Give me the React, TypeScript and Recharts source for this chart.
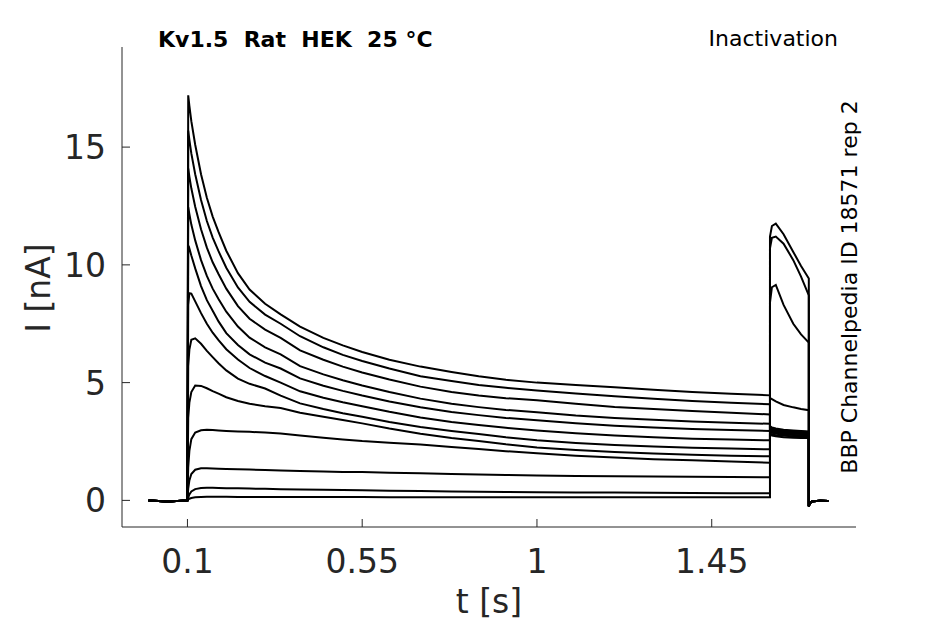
import { Line, LineChart, XAxis, YAxis } from "recharts";

const INK = "#262626";
const FONT = "DejaVu Sans";

// time points [s]
const baseTimes = [0, 0.05, 0.1];
const stepTimes = [
  0.102, 0.105, 0.11, 0.12, 0.135, 0.15, 0.165, 0.18, 0.2, 0.23, 0.26, 0.3, 0.34, 0.39, 0.45,
  0.5, 0.55, 0.62, 0.7, 0.78, 0.85, 0.92, 1.0, 1.1, 1.2, 1.3, 1.4, 1.5, 1.6,
];
const testTimes = [1.6, 1.605, 1.615, 1.635, 1.66, 1.68, 1.7];
const tailTimes = [1.7, 1.703, 1.71, 1.73, 1.75];

// currents [nA]
const baseCurrent = [0, -0.05, 0];
const tailCurrent = [-0.25, -0.1, -0.04, -0.02, -0.03];

const pre1 = [17.2, 16.75, 16.1, 15.1, 13.85, 12.85, 12.05, 11.4, 10.6, 9.65, 8.95, 8.35, 7.9, 7.38, 6.9, 6.58, 6.3, 5.97, 5.68, 5.45, 5.27, 5.12, 5.0, 4.9, 4.8, 4.7, 4.6, 4.53, 4.46];
const pre2 = [15.7, 15.31, 14.73, 13.85, 12.75, 11.86, 11.16, 10.58, 9.88, 9.04, 8.43, 7.89, 7.5, 6.97, 6.5, 6.18, 5.92, 5.6, 5.27, 5.07, 4.9, 4.78, 4.67, 4.54, 4.42, 4.32, 4.22, 4.15, 4.08];
const pre3 = [14.1, 13.75, 13.25, 12.47, 11.51, 10.73, 10.11, 9.61, 8.99, 8.25, 7.71, 7.25, 6.9, 6.37, 5.97, 5.68, 5.43, 5.13, 4.83, 4.6, 4.45, 4.34, 4.25, 4.1, 3.97, 3.88, 3.8, 3.72, 3.65];
const pre4 = [12.45, 12.15, 11.71, 11.04, 10.2, 9.53, 8.99, 8.55, 8.01, 7.38, 6.91, 6.5, 6.2, 5.7, 5.35, 5.1, 4.88, 4.6, 4.32, 4.1, 3.96, 3.84, 3.74, 3.6, 3.5, 3.42, 3.35, 3.3, 3.25];
const pre5 = [10.55, 10.7, 10.4, 9.85, 9.1, 8.5, 8.05, 7.6, 7.1, 6.6, 6.2, 5.85, 5.6, 5.18, 4.87, 4.65, 4.45, 4.2, 3.95, 3.75, 3.62, 3.5, 3.4, 3.27, 3.17, 3.09, 3.03, 2.99, 2.95];
const pre6 = [8.3, 8.8, 8.78, 8.45, 7.95, 7.5, 7.12, 6.8, 6.42, 5.98, 5.62, 5.28, 5.0, 4.63, 4.36, 4.17, 4.0, 3.76, 3.52, 3.33, 3.2, 3.08, 2.97, 2.85, 2.75, 2.68, 2.62, 2.58, 2.55];
const pre7 = [5.7, 6.4, 6.82, 6.88, 6.65, 6.35, 6.08, 5.82, 5.52, 5.17, 4.95, 4.75, 4.45, 4.12, 3.88, 3.7, 3.55, 3.33, 3.12, 2.95, 2.82, 2.68, 2.55, 2.44, 2.35, 2.29, 2.24, 2.2, 2.17];
const pre8 = [3.5, 4.15, 4.6, 4.88, 4.86, 4.76, 4.64, 4.53, 4.38, 4.22, 4.1, 4.0, 3.92, 3.72, 3.55, 3.41, 3.27, 3.05, 2.83, 2.65, 2.52, 2.38, 2.25, 2.14, 2.05, 1.99, 1.94, 1.9, 1.87];
const pre9 = [1.4, 2.1, 2.6, 2.88, 2.98, 3.0, 2.99, 2.97, 2.95, 2.93, 2.91, 2.88, 2.84, 2.75, 2.66, 2.59, 2.52, 2.45, 2.37, 2.27, 2.18, 2.09, 2.0, 1.9, 1.82, 1.75, 1.7, 1.65, 1.6];
const pre10 = [0.5, 0.85, 1.12, 1.3, 1.36, 1.36, 1.35, 1.34, 1.33, 1.32, 1.31, 1.29, 1.27, 1.25, 1.23, 1.21, 1.2, 1.17, 1.15, 1.12, 1.1, 1.08, 1.06, 1.04, 1.03, 1.01, 1.0, 0.99, 0.98];
const pre11 = [0.12, 0.25, 0.38, 0.48, 0.53, 0.54, 0.54, 0.53, 0.52, 0.51, 0.5, 0.49, 0.47, 0.46, 0.45, 0.44, 0.43, 0.41, 0.4, 0.38, 0.37, 0.36, 0.35, 0.34, 0.33, 0.32, 0.31, 0.3, 0.3];
const pre12 = [0.04, 0.07, 0.1, 0.13, 0.14, 0.15, 0.15, 0.15, 0.15, 0.14, 0.14, 0.14, 0.14, 0.14, 0.14, 0.14, 0.14, 0.13, 0.13, 0.13, 0.13, 0.13, 0.13, 0.13, 0.13, 0.13, 0.13, 0.13, 0.13];

const test1 = [2.8, 2.75, 2.72, 2.68, 2.66, 2.65, 2.65];
const test2 = [2.85, 2.8, 2.77, 2.74, 2.72, 2.71, 2.7];
const test3 = [2.9, 2.87, 2.83, 2.8, 2.78, 2.77, 2.76];
const test4 = [2.95, 2.92, 2.88, 2.85, 2.83, 2.82, 2.81];
const test5 = [3.0, 2.96, 2.92, 2.88, 2.86, 2.85, 2.84];
const test6 = [3.05, 3.0, 2.96, 2.92, 2.9, 2.88, 2.87];
const test7 = [3.1, 3.05, 3.0, 2.96, 2.94, 2.92, 2.9];
const test8 = [3.15, 3.1, 3.05, 3.0, 2.97, 2.95, 2.93];
const test9 = [4.35, 4.3, 4.2, 4.05, 3.95, 3.88, 3.83];
const test10 = [8.4, 9.05, 9.15, 8.3, 7.5, 7.05, 6.7];
const test11 = [10.7, 11.15, 11.2, 10.9, 10.2, 9.5, 8.7];
const test12 = [11.2, 11.65, 11.75, 11.3, 10.55, 9.95, 9.42];

const sweeps = [
  [pre1, test1], [pre2, test2], [pre3, test3], [pre4, test4],
  [pre5, test5], [pre6, test6], [pre7, test7], [pre8, test8],
  [pre9, test9], [pre10, test10], [pre11, test11], [pre12, test12],
];

const xTicks = [0.1, 0.55, 1, 1.45];
const yTicks = [0, 5, 10, 15];

const allTimes = [...baseTimes, ...stepTimes, ...testTimes, ...tailTimes];
const data = allTimes.map((t, i) => {
  const row: Record<string, number> = { t };
  sweeps.forEach(([pre, test], k) => {
    const values = [...baseCurrent, ...pre, ...test, ...tailCurrent];
    row[`s${k + 1}`] = values[i];
  });
  return row;
});

function XTick({ x, y, payload }: any) {
  return (
    <g>
      <line x1={x} y1={y} x2={x} y2={y - 8} stroke={INK} strokeWidth={1} />
      <text x={x} y={y + 46} textAnchor="middle" fontSize={33} fontFamily={FONT} fill={INK}>
        {String(payload.value)}
      </text>
    </g>
  );
}

function YTick({ x, y, payload }: any) {
  return (
    <g>
      <line x1={x} y1={y} x2={x + 8} y2={y} stroke={INK} strokeWidth={1} />
      <text x={x - 16} y={y + 12} textAnchor="end" fontSize={33} fontFamily={FONT} fill={INK}>
        {String(payload.value)}
      </text>
    </g>
  );
}

export default function App() {
  return (
    <div style={{ position: "absolute", left: 0, top: 0, width: 945, height: 624, background: "#fff" }}>
      <LineChart
        width={945}
        height={624}
        data={data}
        margin={{ top: 47, right: 89, bottom: 37, left: 62 }}
      >
        <XAxis
          type="number"
          dataKey="t"
          domain={[-0.0685, 1.8215]}
          ticks={xTicks}
          allowDataOverflow
          height={60}
          tickSize={0}
          tickMargin={0}
          tickLine={false}
          axisLine={{ stroke: INK, strokeWidth: 1 }}
          tick={<XTick />}
        />
        <YAxis
          type="number"
          domain={[-1.13, 19.25]}
          ticks={yTicks}
          allowDataOverflow
          width={60}
          tickSize={0}
          tickMargin={0}
          tickLine={false}
          axisLine={{ stroke: INK, strokeWidth: 1 }}
          tick={<YTick />}
        />
        {sweeps.map((_, k) => (
          <Line
            key={k}
            type="linear"
            dataKey={`s${k + 1}`}
            stroke="#000"
            strokeWidth={2}
            dot={false}
            isAnimationActive={false}
          />
        ))}
      </LineChart>
      <svg
        width={945}
        height={624}
        style={{ position: "absolute", left: 0, top: 0, pointerEvents: "none" }}
      >
        <text x={158} y={47} fontSize={22} fontWeight="bold" fontFamily={FONT} fill="#000" style={{ whiteSpace: "pre" }}>
          {"Kv1.5  Rat  HEK  25 °C"}
        </text>
        <text x={838} y={46} textAnchor="end" fontSize={22} fontFamily={FONT} fill="#000">
          Inactivation
        </text>
        <text
          x={857}
          y={287}
          textAnchor="middle"
          fontSize={22}
          fontFamily={FONT}
          fill="#000"
          transform="rotate(-90 857 287)"
        >
          BBP Channelpedia ID 18571 rep 2
        </text>
        <text
          x={50}
          y={288}
          textAnchor="middle"
          fontSize={33}
          fontFamily={FONT}
          fill={INK}
          transform="rotate(-90 50 288)"
        >
          I [nA]
        </text>
        <text x={489} y={613} textAnchor="middle" fontSize={33} fontFamily={FONT} fill={INK}>
          t [s]
        </text>
      </svg>
    </div>
  );
}
